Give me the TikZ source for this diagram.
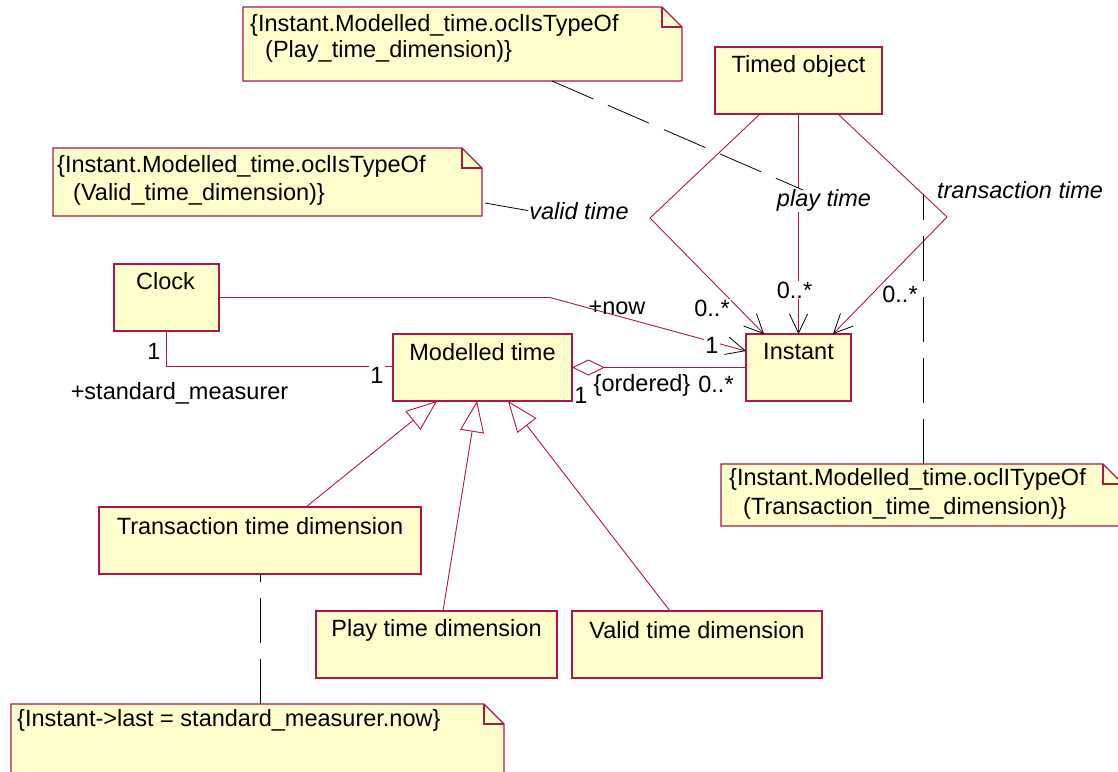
\documentclass[tikz,border=0pt]{standalone}
\usepackage{fontspec}
\setmainfont{Liberation Sans}
\usetikzlibrary{arrows.meta}
\definecolor{rim}{RGB}{172,22,72}
\definecolor{paper}{RGB}{255,255,204}

% note outline with a folded top-right corner
\newcommand\umlnote[1]{%
  \draw[notestyle] (#1.north west) -- ([xshift=-20pt]#1.north east)
    -- ([yshift=-20pt]#1.north east) -- (#1.south east) -- (#1.south west) -- cycle;
  \draw[notestyle, fill=none] ([xshift=-20pt]#1.north east)
    -- ([xshift=-20pt,yshift=-20pt]#1.north east) -- ([yshift=-20pt]#1.north east);}

\begin{document}
\begin{tikzpicture}[x=1pt,y=-1pt,
  font=\fontsize{23.5}{27}\selectfont,
  cls/.style={draw=rim, fill=paper, line width=1.1pt, inner sep=0pt, outer sep=0pt,
    text height=0pt, text depth=0pt, anchor=north west},
  frame/.style={inner sep=0pt, outer sep=0pt, anchor=north west},
  notestyle/.style={draw=rim, fill=paper, line width=1.1pt},
  title/.style={inner sep=0pt, anchor=center},
  ntext/.style={inner sep=0pt, anchor=base west},
  lbl/.style={inner sep=1pt, anchor=base, fill=white},
  role/.style={lbl, font=\fontsize{23.5}{27}\selectfont\itshape},
  assoc/.style={draw=rim, line width=0.9pt},
  nav/.style={assoc, -{Straight Barb[length=19pt, width=18pt, color=black, line width=0.8pt]}},
  gen/.style={assoc, -{Triangle[length=31pt, width=24pt, fill=white]}},
  agg/.style={assoc, {Diamond[length=33pt, width=16pt, fill=white]}-},
  anchorline/.style={draw=black, line width=0.8pt, dash pattern=on 45pt off 16pt}
]
\useasboundingbox (0,0) rectangle (1118,771);
\clip (0,0) rectangle (1118,771);

% ---------- classes ----------
\node[cls, minimum width=167pt, minimum height=67pt] (timed) at (715,47) {};
\node[title] (timed-t) at ([yshift=-19pt]timed.north) {Timed object};

\node[cls, minimum width=105pt, minimum height=67pt] (inst) at (746,334) {};
\node[title] (inst-t) at ([yshift=-18pt]inst.north) {Instant};

\node[cls, minimum width=179pt, minimum height=67pt] (mt) at (393,334) {};
\node[title] (mt-t) at ([yshift=-18pt]mt.north) {Modelled time};

\node[cls, minimum width=105pt, minimum height=67pt] (clock) at (114,264) {};
\node[title] (clock-t) at ([yshift=-17pt,xshift=-1pt]clock.north) {Clock};

\node[cls, minimum width=322pt, minimum height=67pt] (trans) at (99,507) {};
\node[title] (trans-t) at ([yshift=-19pt]trans.north) {Transaction time dimension};

\node[cls, minimum width=241pt, minimum height=67pt] (play) at (316,611) {};
\node[title] (play-t) at ([yshift=-19pt]play.north) {Play time dimension};

\node[cls, minimum width=250pt, minimum height=67pt] (valid) at (572,611) {};
\node[title] (valid-t) at ([yshift=-19pt]valid.north) {Valid time dimension};

% ---------- notes ----------
\node[frame, minimum width=439pt, minimum height=74pt] (n1) at (243,7) {};
\umlnote{n1}
\node[ntext] (n1a) at (250,31) {\{Instant.Modelled\_time.oclIsTypeOf};
\node[ntext] (n1b) at (265,57) {(Play\_time\_dimension)\}};

\node[frame, minimum width=429pt, minimum height=68pt] (n2) at (53,148) {};
\umlnote{n2}
\node[ntext] (n2a) at (57,172) {\{Instant.Modelled\_time.oclIsTypeOf};
\node[ntext] (n2b) at (73,200) {(Valid\_time\_dimension)\}};

\node[frame, minimum width=402pt, minimum height=62pt] (n4) at (721,464) {};
\umlnote{n4}
\node[ntext] (n4a) at (729,485) {\{Instant.Modelled\_time.oclITypeOf};
\node[ntext] (n4b) at (743,514) {(Transaction\_time\_dimension)\}};

\node[frame, minimum width=493pt, minimum height=90pt] (n5) at (11,704) {};
\umlnote{n5}
\node[ntext] (n5a) at (17,726) {\{Instant->last = standard\_measurer.now\}};

% ---------- associations Timed object -> Instant ----------
\draw[nav] ([xshift=45pt]timed.south west) -- (650,218) -- ([xshift=18pt]inst.north west);
\draw[nav] (timed.south) -- (inst.north);
\draw[nav] ([xshift=-44pt]timed.south east) -- (947,217) -- ([xshift=-18pt]inst.north east);

% ---------- Clock associations ----------
\draw[nav] (clock.east) -- (550,297.5) -- ([yshift=-17pt]inst.north west);
\draw[assoc] (clock.south) |- ([yshift=1pt]mt.west);

% ---------- aggregation ----------
\draw[agg] (mt.east) -- (inst.west);

% ---------- generalisations ----------
\draw[gen] ([xshift=46pt]trans.north) -- ([xshift=-45.5pt]mt.south);
\draw[gen] ([xshift=6.5pt]play.north) -- ([xshift=-5.5pt]mt.south);
\draw[gen] ([xshift=-27pt]valid.north) -- ([xshift=25.5pt]mt.south);

% ---------- labels ----------
\node[role] (l-valid) at (579,219) {valid time};
\node[role] (l-play) at (824,206) {play time};
\node[role] (l-trans) at (1020,198) {transaction time};
\node[lbl] (m-left) at (712,316) {0..*};
\node[lbl] (m-mid) at (794.5,298) {0..*};
\node[lbl] (m-right) at (900,302) {0..*};
\node[lbl, fill=none] (l-now) at (617,314) {+now};
\node[lbl] (m-now) at (712,353) {1};
\node[lbl, fill=none] (m-clock) at (154,359) {1};
\node[lbl] (m-mtl) at (377,383) {1};
\node[lbl, fill=none] (l-sm) at (179.5,399) {+standard\_measurer};
\node[lbl, fill=none] (m-mtr) at (581,403) {1};
\node[lbl, fill=none] (l-ord) at (642,391) {\{ordered\}};
\node[lbl, fill=none] (m-inst) at (716,392) {0..*};

% ---------- note anchors ----------
\coordinate (c-play) at (803,190);
\draw[anchorline] ([xshift=89.5pt]n1.south) -- (c-play);
\draw[anchorline] ([xshift=3pt,yshift=13pt]n2.south east) -- (l-valid.west);
\draw[anchorline] ([xshift=202pt]n4.north west) -- (923,194);
\draw[anchorline] (n5.north -| trans.south) -- (trans.south);
\end{tikzpicture}
\end{document}
